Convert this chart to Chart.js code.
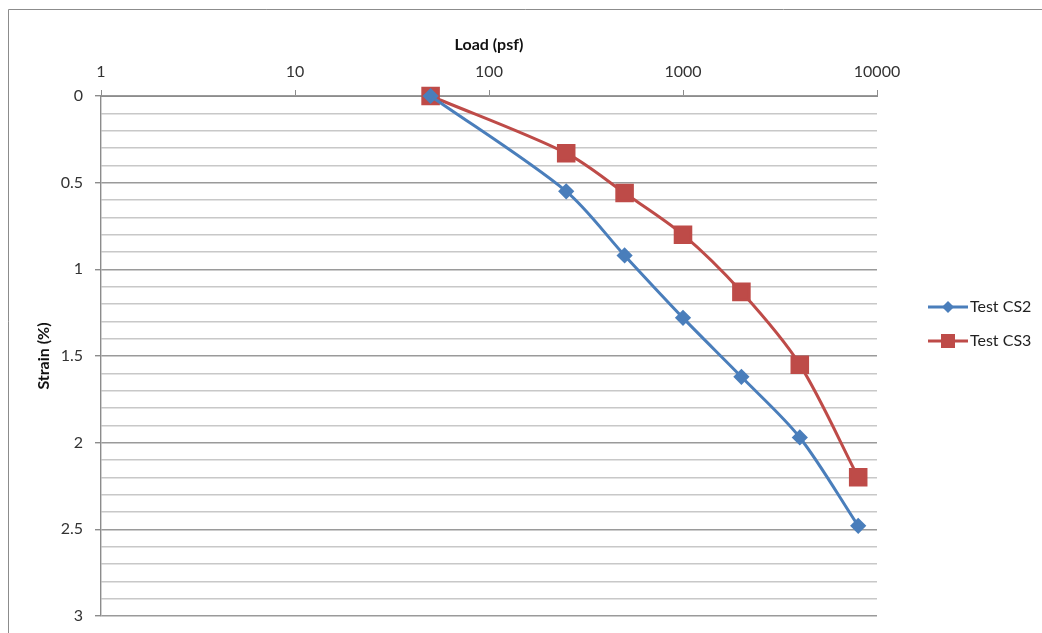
<!DOCTYPE html>
<html>
<head>
<meta charset="utf-8">
<title>Load vs Strain</title>
<script src="https://cdn.jsdelivr.net/npm/chart.js@4.4.1/dist/chart.umd.min.js"></script>
<style>
    html, body { margin: 0; padding: 0; background: #fff; }
    #wrap { width: 1042px; height: 633px; position: relative; }
</style>
</head>
<body>
<div id="wrap"><canvas id="strainChart"></canvas></div>
<script>
// load steps (psf) and measured strain (%) for each test
const loads = [50, 250, 500, 1000, 2000, 4000, 8000];
const strainCS2 = [0, 0.55, 0.92, 1.28, 1.62, 1.97, 2.48];
const strainCS3 = [0, 0.33, 0.56, 0.80, 1.13, 1.55, 2.20];
const xTickValues = [1, 10, 100, 1000, 10000];

const BLUE = '#4a7ebb';
const RED = '#be4b48';
const FONT = 'Lato, "Open Sans", sans-serif';

const isMajor = v => Math.abs(v * 2 - Math.round(v * 2)) < 1e-6;

// white page with the grey frame on top and left
const framePlugin = {
    id: 'frame',
    beforeDraw(chart) {
        const ctx = chart.ctx;
        ctx.save();
        ctx.fillStyle = '#fff';
        ctx.fillRect(0, 0, chart.width, chart.height);
        ctx.strokeStyle = '#8c8c8c';
        ctx.lineWidth = 1;
        ctx.beginPath();
        ctx.moveTo(8.5, chart.height);
        ctx.lineTo(8.5, 9.5);
        ctx.lineTo(chart.width, 9.5);
        ctx.stroke();
        ctx.restore();
    }
};

// legend with a short line and the marker on it
const lineLegend = {
    id: 'lineLegend',
    afterDraw(chart) {
        const ctx = chart.ctx;
        ctx.save();
        chart.data.datasets.forEach((ds, i) => {
            const y = 307 + i * 34;
            ctx.strokeStyle = ds.borderColor;
            ctx.lineWidth = 3;
            ctx.beginPath();
            ctx.moveTo(928, y);
            ctx.lineTo(968, y);
            ctx.stroke();
            ctx.fillStyle = ds.borderColor;
            const r = ds.pointStyle === 'rect' ? 7 : 6;
            ctx.beginPath();
            if (ds.pointStyle === 'rect') {
                ctx.rect(948 - r, y - r, 2 * r, 2 * r);
            } else {
                ctx.moveTo(948 - r, y); ctx.lineTo(948, y - r);
                ctx.lineTo(948 + r, y); ctx.lineTo(948, y + r);
                ctx.closePath();
            }
            ctx.fill();
            ctx.fillStyle = '#222';
            ctx.font = '16px ' + FONT;
            ctx.textBaseline = 'middle';
            ctx.fillText(ds.label, 970, y);
        });
        ctx.restore();
    }
};

new Chart(document.getElementById('strainChart'), {
    type: 'line',
    data: {
        datasets: [{
            label: 'Test CS2',
            data: loads.map((l, i) => ({ x: l, y: strainCS2[i] })),
            borderColor: BLUE,
            backgroundColor: BLUE,
            borderWidth: 3,
            pointStyle: 'rectRot',
            pointRadius: 6,
            tension: 0.3,
            clip: false
        }, {
            label: 'Test CS3',
            data: loads.map((l, i) => ({ x: l, y: strainCS3[i] })),
            borderColor: RED,
            backgroundColor: RED,
            borderWidth: 3,
            pointStyle: 'rect',
            pointRadius: 11,
            tension: 0.3,
            clip: false
        }]
    },
    options: {
        responsive: true,
        maintainAspectRatio: false,
        animation: false,
        layout: { padding: { left: 0, top: 0, right: 165, bottom: 17 } },
        plugins: { legend: { display: false }, tooltip: { enabled: false } },
        scales: {
            x: {
                type: 'logarithmic',
                position: 'top',
                min: 1,
                max: 10000,
                afterBuildTicks: axis => { axis.ticks = xTickValues.map(v => ({ value: v })); },
                afterFit: axis => {
                    axis.height = 96;
                    axis.paddingLeft = 0;
                    axis.paddingRight = 0;
                },
                ticks: {
                    callback: v => String(v),
                    color: '#333',
                    font: { family: FONT, size: 16 },
                    padding: 9,
                    maxRotation: 0
                },
                grid: { drawOnChartArea: false, drawTicks: true, tickLength: 6, color: '#8c8c8c' },
                border: { color: '#8c8c8c' },
                title: {
                    display: true,
                    text: 'Load (psf)',
                    color: '#111',
                    font: { family: FONT, size: 16, weight: 'bold' },
                    padding: { top: 35, bottom: 0 }
                }
            },
            y: {
                reverse: true,
                min: 0,
                max: 3,
                afterFit: axis => {
                    axis.width = 101;
                    axis.paddingTop = 0;
                    axis.paddingBottom = 0;
                },
                ticks: {
                    stepSize: 0.1,
                    autoSkip: false,
                    callback: v => isMajor(v) ? String(Math.round(v * 2) / 2) : '',
                    color: '#333',
                    font: { family: FONT, size: 16 },
                    padding: 12
                },
                grid: {
                    color: ctx => isMajor(ctx.tick.value) ? '#9a9a9a' : '#c8c8c8',
                    tickColor: ctx => isMajor(ctx.tick.value) ? '#8c8c8c' : 'rgba(0,0,0,0)',
                    tickLength: 6,
                    lineWidth: 1.4
                },
                border: { color: '#8c8c8c', width: 1.4 },
                title: {
                    display: true,
                    text: 'Strain (%)',
                    color: '#111',
                    font: { family: FONT, size: 16, weight: 'bold' },
                    padding: { top: 34, bottom: 0 }
                }
            }
        }
    },
    plugins: [framePlugin, lineLegend]
});
</script>
</body>
</html>
